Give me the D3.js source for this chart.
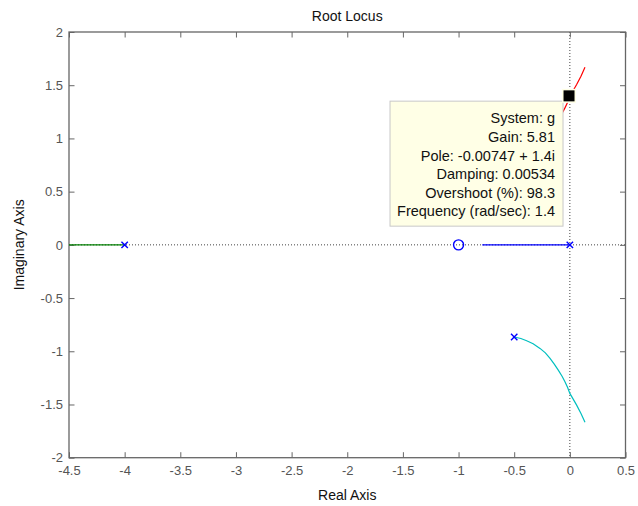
<!DOCTYPE html>
<html><head><meta charset="utf-8">
<script src="https://cdn.jsdelivr.net/npm/d3@7"></script>
<style>body{margin:0;background:#fff;} svg{display:block;font-family:"Liberation Sans",Arial,sans-serif;}</style>
</head><body>
<svg id="c" width="638" height="506"></svg>
<script>
const realTicks = [-4.5,-4,-3.5,-3,-2.5,-2,-1.5,-1,-0.5,0,0.5];
const imagTicks = [-2,-1.5,-1,-0.5,0,0.5,1,1.5,2];
const poles = [[-4,0],[0,0],[-0.5,0.866],[-0.5,-0.866]];
const zeros = [[-1,0]];
const greenBranch = [[-4.5,0],[-4,0]];
const blueBranch = [[-0.787,0],[0,0]];
const cyanBranch = [[-0.5,-0.866],[-0.44,-0.88],[-0.388,-0.901],[-0.33,-0.93],[-0.268,-0.973],[-0.22,-1.015],[-0.178,-1.067],[-0.14,-1.12],[-0.104,-1.177],[-0.07,-1.235],[-0.044,-1.287],[-0.02,-1.34],[0,-1.396],[0.03,-1.45],[0.061,-1.506],[0.1,-1.585],[0.136,-1.668]];
const redBranch = [[-0.5,0.866],[-0.44,0.88],[-0.388,0.901],[-0.33,0.93],[-0.268,0.973],[-0.22,1.015],[-0.178,1.067],[-0.14,1.12],[-0.104,1.177],[-0.07,1.235],[-0.044,1.287],[-0.02,1.34],[0,1.396],[0.03,1.45],[0.061,1.506],[0.1,1.585],[0.136,1.668]];
const tipPoint = [-0.00747, 1.4];
const tipLines = ["System: g","Gain: 5.81","Pole: -0.00747 + 1.4i","Damping: 0.00534","Overshoot (%): 98.3","Frequency (rad/sec): 1.4"];

const svg = d3.select("#c");
const L=69, R=625.5, T=32, B=457.7;
const x = d3.scaleLinear().domain([-4.5,0.5]).range([L,R]);
const y = d3.scaleLinear().domain([-2,2]).range([B,T]);
const axisCol="#666", tickTxt="#555";

// dotted zero lines
svg.append("line").attr("x1",L).attr("x2",R).attr("y1",y(0)).attr("y2",y(0))
  .attr("stroke","#444").attr("stroke-width",1).attr("stroke-dasharray","1,2");
svg.append("line").attr("x1",x(0)).attr("x2",x(0)).attr("y1",T).attr("y2",B)
  .attr("stroke","#444").attr("stroke-width",1).attr("stroke-dasharray","1,2");

// axes
const fmt = d => String(d);
const tl = 5.5;
const gB = svg.append("g").attr("transform",`translate(0,${B})`).call(d3.axisBottom(x).tickValues(realTicks).tickSize(-tl).tickPadding(8).tickFormat(fmt));
const gT = svg.append("g").attr("transform",`translate(0,${T})`).call(d3.axisTop(x).tickValues(realTicks).tickSize(-tl).tickFormat(""));
const gL = svg.append("g").attr("transform",`translate(${L},0)`).call(d3.axisLeft(y).tickValues(imagTicks).tickSize(-tl).tickPadding(6).tickFormat(fmt));
const gR = svg.append("g").attr("transform",`translate(${R},0)`).call(d3.axisRight(y).tickValues(imagTicks).tickSize(-tl).tickFormat(""));
[gB,gT,gL,gR].forEach(g=>{
  g.select(".domain").attr("stroke",axisCol).attr("stroke-width",1.3).attr("d",null);
  g.selectAll(".tick line").attr("stroke",axisCol).attr("stroke-width",1);
  g.selectAll(".tick text").attr("fill",tickTxt).attr("font-size",13).attr("font-family","Liberation Sans, Arial, sans-serif");
});
svg.append("rect").attr("x",L).attr("y",T).attr("width",R-L).attr("height",B-T)
  .attr("fill","none").attr("stroke",axisCol).attr("stroke-width",1.3);

// branches
const line = d3.line().x(d=>x(d[0])).y(d=>y(d[1]));
const branches = [[greenBranch,"#008000"],[blueBranch,"#0000ff"],[cyanBranch,"#00bfbf"],[redBranch,"#ff0000"]];
branches.forEach(([data,col])=>{
  svg.append("path").attr("d",line(data)).attr("fill","none").attr("stroke",col).attr("stroke-width",1.2);
});

// poles
const s=3.2;
poles.forEach(p=>{
  const cx=x(p[0]), cy=y(p[1]);
  svg.append("path").attr("d",`M${cx-s},${cy-s}L${cx+s},${cy+s}M${cx-s},${cy+s}L${cx+s},${cy-s}`)
    .attr("stroke","#0000ff").attr("stroke-width",1.4);
});
zeros.forEach(z=>{
  svg.append("circle").attr("cx",x(z[0])).attr("cy",y(z[1])).attr("r",5)
    .attr("fill","none").attr("stroke","#0000ff").attr("stroke-width",1.4);
});

// datatip
const px=x(tipPoint[0]), py=y(tipPoint[1]);
const bw=173, bh=125;
const bx=px-6-bw, by=py+5.3;
svg.append("rect").attr("x",bx).attr("y",by).attr("width",bw).attr("height",bh)
  .attr("fill","#ffffe6").attr("stroke","#c8c8c8").attr("stroke-width",1);
tipLines.forEach((t,i)=>{
  svg.append("text").attr("x",bx+bw-8).attr("y",by+22.3+i*18.55).attr("text-anchor","end")
    .attr("font-size",14.5).attr("fill","#111").text(t);
});
svg.append("rect").attr("x",px-7).attr("y",py-7).attr("width",14).attr("height",14).attr("fill","#ffffe6");
svg.append("rect").attr("x",px-5.5).attr("y",py-5.5).attr("width",11).attr("height",11).attr("fill","#000");

// titles
svg.append("text").attr("x",(L+R)/2).attr("y",21).attr("text-anchor","middle").attr("font-size",14).attr("fill","#111").text("Root Locus");
svg.append("text").attr("x",(L+R)/2).attr("y",500).attr("text-anchor","middle").attr("font-size",14).attr("fill","#111").text("Real Axis");
svg.append("text").attr("transform",`translate(24,${(T+B)/2}) rotate(-90)`).attr("text-anchor","middle").attr("font-size",14).attr("fill","#111").text("Imaginary Axis");
</script>
</body></html>
